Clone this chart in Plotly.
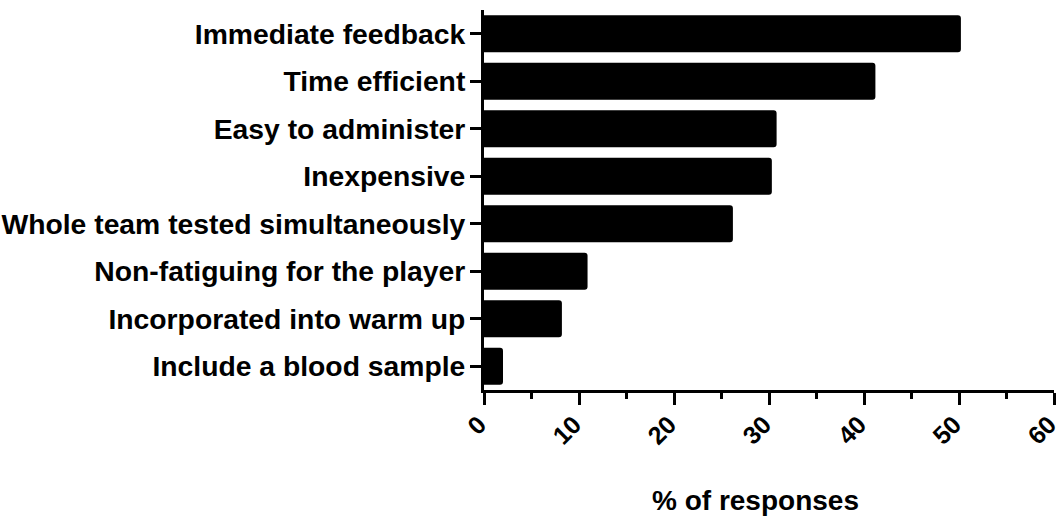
import plotly.graph_objects as go

categories = [
    "Immediate feedback",
    "Time efficient",
    "Easy to administer",
    "Inexpensive",
    "Whole team tested simultaneously",
    "Non-fatiguing for the player",
    "Incorporated into warm up",
    "Include a blood sample",
]
values = [50.2, 41.2, 30.8, 30.3, 26.2, 10.9, 8.2, 2.0]
x_ticks = [0, 10, 20, 30, 40, 50, 60]
x_title = "% of responses"

FONT = "Liberation Sans, Arial, sans-serif"

fig = go.Figure(
    go.Bar(
        x=values,
        y=categories,
        orientation="h",
        marker=dict(color="black", line=dict(width=0), cornerradius=3),
        hoverinfo="skip",
    )
)

fig.update_layout(
    width=1060,
    height=519,
    margin=dict(l=484, r=6, t=10, b=129),
    paper_bgcolor="white",
    plot_bgcolor="white",
    bargap=0.22,
    showlegend=False,
    annotations=[
        dict(
            text=x_title,
            xref="paper",
            yref="paper",
            x=0.476,
            y=-0.292,
            xanchor="center",
            yanchor="middle",
            showarrow=False,
            font=dict(family=FONT, size=28, color="black", weight="bold"),
        )
    ],
)

fig.update_xaxes(
    range=[0, 60],
    tickvals=x_ticks,
    ticktext=[str(v) for v in x_ticks],
    tickangle=-45,
    ticks="outside",
    ticklen=12,
    tickwidth=2.5,
    tickcolor="black",
    minor=dict(dtick=5, ticks="outside", ticklen=6, tickwidth=2.5, tickcolor="black", showgrid=False),
    showline=True,
    linewidth=3,
    linecolor="black",
    showgrid=False,
    zeroline=False,
    tickfont=dict(family=FONT, size=25, color="black", weight="bold"),
    ticklabelstandoff=-5,
    ticklabelshift=-5,
    ticklabeloverflow="allow",
    automargin=False,
)

fig.update_yaxes(
    range=[7.5, -0.5],
    ticks="outside",
    ticklen=11,
    tickwidth=2.5,
    tickcolor="black",
    showline=True,
    linewidth=3,
    linecolor="black",
    showgrid=False,
    zeroline=False,
    tickfont=dict(family=FONT, size=28.3, color="black", weight="bold"),
    ticklabelstandoff=-1,
    automargin=False,
)

fig.write_html(
    "out.html",
    config={"displayModeBar": False},
    post_script="document.body.style.margin='0';document.body.style.padding='0';document.body.style.overflow='hidden';",
)
